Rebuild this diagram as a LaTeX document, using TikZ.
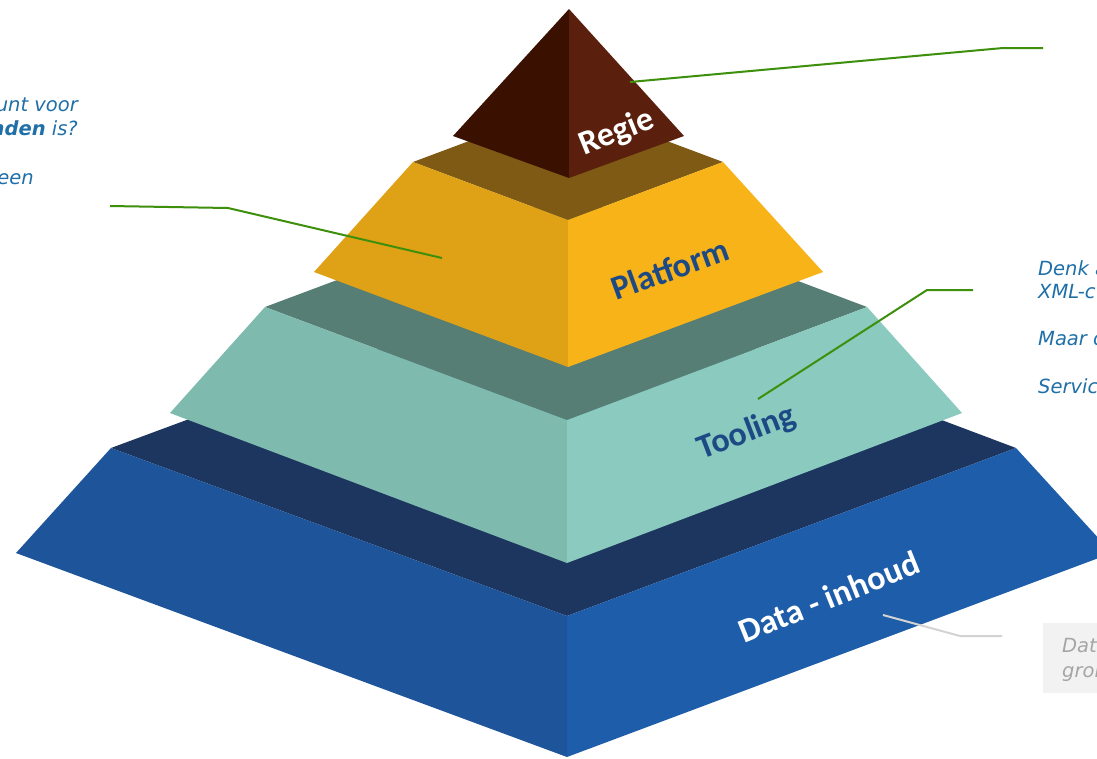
\documentclass[tikz,border=0pt]{standalone}
\usepackage{fontspec}
\newfontfamily\lblfont{Carlito}
\newfontfamily\annfont{DejaVu Sans}
\definecolor{regieL}{HTML}{3A1000}
\definecolor{regieR}{HTML}{5A1F0D}
\definecolor{platTop}{HTML}{7E5A14}
\definecolor{platL}{HTML}{DFA116}
\definecolor{platR}{HTML}{F8B318}
\definecolor{toolTop}{HTML}{567E74}
\definecolor{toolL}{HTML}{7FBAAF}
\definecolor{toolR}{HTML}{8ACABF}
\definecolor{dataTop}{HTML}{1D365F}
\definecolor{dataL}{HTML}{1E549A}
\definecolor{dataR}{HTML}{1E5DA9}
\definecolor{annblue}{HTML}{1F6FA8}
\definecolor{lblblue}{HTML}{1D4A85}
\definecolor{leadgreen}{HTML}{3D8F0C}
\definecolor{leadgray}{HTML}{D3D3D3}
\definecolor{boxgray}{HTML}{F2F2F2}
\definecolor{txtgray}{HTML}{A5A5A5}
\begin{document}
\begin{tikzpicture}[x=1pt,y=-1pt,
  lbl/.style={font=\lblfont\bfseries\fontsize{34}{40}\selectfont, inner sep=0pt},
  ann/.style={font=\annfont\itshape\fontsize{19.5}{23.5}\selectfont, text=annblue, inner sep=0pt},
  anngray/.style={font=\annfont\itshape\fontsize{19.5}{23.5}\selectfont, text=txtgray, inner sep=0pt},
  greenlead/.style={draw=leadgreen, line width=2pt},
  graylead/.style={draw=leadgray, line width=2pt}]
\useasboundingbox (0,0) rectangle (1097,758);
\clip (0,0) rectangle (1097,758);
\fill[white] (0,0) rectangle (1097,758);

% ---- Data tier
\coordinate (dL) at (111,448); \coordinate (dF) at (567,616);
\coordinate (dR) at (1016,448); \coordinate (dB) at (567,279);
\coordinate (dLb) at (16,553); \coordinate (dFb) at (567,757);
\coordinate (dRb) at (1112,553);
\fill[dataTop] (dL)--(dF)--(dR)--(dB)--cycle;
\fill[dataL] (dL)--(dF)--(dFb)--(dLb)--cycle;
\fill[dataR] (dF)--(dR)--(dRb)--(dFb)--cycle;

% ---- Tooling tier
\coordinate (tL) at (265,307); \coordinate (tF) at (567,420);
\coordinate (tR) at (867,307); \coordinate (tB) at (567,194);
\coordinate (tLb) at (170,413); \coordinate (tFb) at (567,563);
\coordinate (tRb) at (962,413);
\fill[toolTop] (tL)--(tF)--(tR)--(tB)--cycle;
\fill[toolL] (tL)--(tF)--(tFb)--(tLb)--cycle;
\fill[toolR] (tF)--(tR)--(tRb)--(tFb)--cycle;

% ---- Platform tier
\coordinate (pL) at (413,162); \coordinate (pF) at (568,220);
\coordinate (pR) at (723,162); \coordinate (pB) at (568,104);
\coordinate (pLb) at (314,272); \coordinate (pFb) at (568,367);
\coordinate (pRb) at (823,272);
\fill[platTop] (pL)--(pF)--(pR)--(pB)--cycle;
\fill[platL] (pL)--(pF)--(pFb)--(pLb)--cycle;
\fill[platR] (pF)--(pR)--(pRb)--(pFb)--cycle;

% ---- Regie
\coordinate (rA) at (569,9); \coordinate (rL) at (453,136);
\coordinate (rR) at (684,136); \coordinate (rF) at (569,178);
\fill[regieL] (rA)--(rL)--(rF)--cycle;
\fill[regieR] (rA)--(rF)--(rR)--cycle;

% ---- Labels
\node[lbl, text=white, rotate=22] (regie) at (617,133) {Regie};
\node[lbl, text=lblblue, rotate=20] (platform) at (670,269) {Platform};
\node[lbl, text=lblblue, rotate=21] (tooling) at (747,433) {Tooling};
\node[lbl, text=white, rotate=22] (data) at (829,597) {Data - inhoud};

% ---- Annotation texts
\node[ann, anchor=base east] (a1) at (78,111) {unt voor};
\node[ann, anchor=base east] (a2) at (78,135) {\textbf{nden} is?};
\node[ann, anchor=base east] (a3) at (34,184) {een};

\node[ann, anchor=base west] (b1) at (1038,275) {Denk a};
\node[ann, anchor=base west] (b2) at (1038,298) {XML-c};
\node[ann, anchor=base west] (b3) at (1038,345) {Maar o};
\node[ann, anchor=base west] (b4) at (1038,393) {Servic};

\fill[boxgray] (1043,623) rectangle (1100,693);
\node[anngray, anchor=base west] (c1) at (1062,652) {Data};
\node[anngray, anchor=base west] (c2) at (1062,677) {gron};

% ---- Leader lines
\coordinate (gR1) at (630,82); \coordinate (gR2) at (1003,48); \coordinate (gR3) at (1043,48);
\draw[greenlead] (gR1)--(gR2)--(gR3);
\coordinate (gP1) at (110,206); \coordinate (gP2) at (228,208); \coordinate (gP3) at (442,258);
\draw[greenlead] (gP1)--(gP2)--(gP3);
\coordinate (gT1) at (758,399); \coordinate (gT2) at (927,290); \coordinate (gT3) at (973,290);
\draw[greenlead] (gT1)--(gT2)--(gT3);
\coordinate (gD1) at (883,615); \coordinate (gD2) at (960,636); \coordinate (gD3) at (1002,636);
\draw[graylead] (gD1)--(gD2)--(gD3);
\end{tikzpicture}
\end{document}
